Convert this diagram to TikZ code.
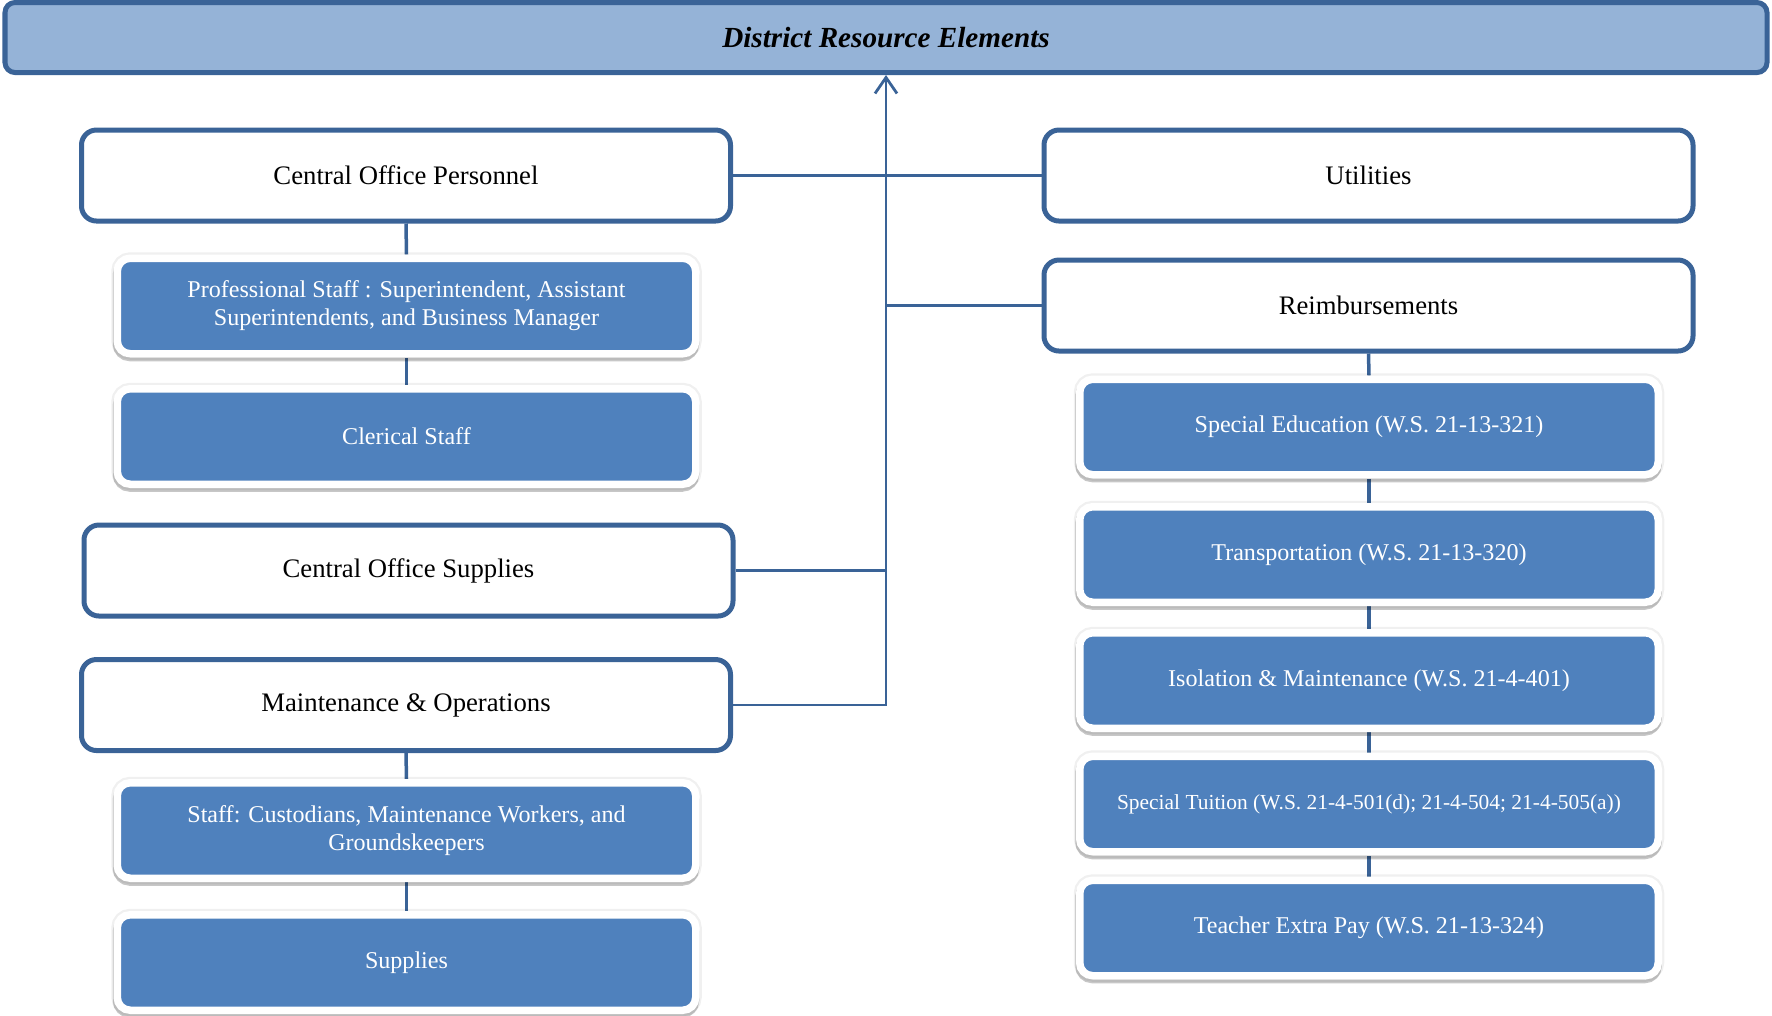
\documentclass[tikz,border=0pt]{standalone}
\usepackage{fontspec}
\setmainfont{Liberation Serif}
\usetikzlibrary{arrows.meta, shadows, backgrounds}
\definecolor{mainBlue}{HTML}{4F81BD}
\definecolor{lightBlue}{HTML}{95B3D7}
\definecolor{lineBlue}{HTML}{3A6397}

\begin{document}
\begin{tikzpicture}[
    headBox/.style={draw=lineBlue, fill=lightBlue, line width=0.05cm, rounded corners=0.1cm,
        minimum width=17.62cm, minimum height=0.70cm, inner sep=0pt,
        font=\fontsize{8.3}{10}\selectfont\bfseries\itshape},
    whiteBox/.style={draw=lineBlue, fill=white, line width=0.05cm, rounded corners=0.15cm,
        minimum width=6.49cm, minimum height=0.91cm, inner sep=0pt,
        font=\fontsize{7.6}{9}\selectfont},
    blueBox/.style={draw=white, fill=mainBlue, line width=0.075cm, rounded corners=0.13cm,
        minimum width=5.785cm, minimum height=0.955cm, inner sep=0pt, text=white, align=center,
        font=\fontsize{6.85}{8}\selectfont,
        general shadow={fill=black, draw=black, line width=0.12cm, opacity=0.06},
        drop shadow={shadow xshift=-0.005cm, shadow yshift=-0.035cm, fill=black, draw=black,
            line width=0.08cm, opacity=0.22}},
    link/.style={draw=lineBlue, line width=0.028cm},
    stem/.style={draw=lineBlue, line width=0.035cm}
]
    \useasboundingbox (0,0) rectangle (17.72,-10.15);

    \node[headBox] (title) at (8.86,-0.375) {District Resource Elements};

    % left column
    \node[whiteBox] (cop) at (4.06,-1.755) {Central Office Personnel};
    \node[blueBox] (prof) at (4.065,-3.06) {Professional Staff : Superintendent, Assistant\\Superintendents, and Business Manager};
    \node[blueBox] (cler) at (4.065,-4.365) {Clerical Staff};
    \node[whiteBox] (cos) at (4.085,-5.705) {Central Office Supplies};
    \node[whiteBox] (mo) at (4.06,-7.05) {Maintenance \& Operations};
    \node[blueBox] (staff) at (4.065,-8.305) {Staff: Custodians, Maintenance Workers, and\\Groundskeepers};
    \node[blueBox] (supp) at (4.065,-9.625) {Supplies};

    % right column
    \node[whiteBox] (util) at (13.685,-1.755) {Utilities};
    \node[whiteBox] (reimb) at (13.685,-3.055) {Reimbursements};
    \node[blueBox] (sped) at (13.69,-4.27) {Special Education (W.S. 21-13-321)};
    \node[blueBox] (trans) at (13.69,-5.545) {Transportation (W.S. 21-13-320)};
    \node[blueBox] (iso) at (13.69,-6.805) {Isolation \& Maintenance (W.S. 21-4-401)};
    \node[blueBox, font=\fontsize{6.1}{7.5}\selectfont] (tuit) at (13.69,-8.04) {Special Tuition (W.S. 21-4-501(d); 21-4-504; 21-4-505(a))};
    \node[blueBox] (tep) at (13.69,-9.28) {Teacher Extra Pay (W.S. 21-13-324)};

    \begin{scope}[on background layer]
        % trunk to the title
        \draw[link, -{Straight Barb[length=0.16cm, width=0.22cm]}] (mo.east) -| (title.south);
        \draw[link] (cop.east) -- (util.west);
        \draw[link] (cos.east) -- (cos.east -| title.south);
        \draw[link] (reimb.west) -- (reimb.west -| title.south);

        % stems
        \draw[stem] (cop.south) -- (prof.north);
        \draw[stem] (prof.south) -- (cler.north);
        \draw[stem] (mo.south) -- (staff.north);
        \draw[stem] (staff.south) -- (supp.north);
        \draw[stem] (reimb.south) -- (sped.north);
        \draw[stem] (sped.south) -- (trans.north);
        \draw[stem] (trans.south) -- (iso.north);
        \draw[stem] (iso.south) -- (tuit.north);
        \draw[stem] (tuit.south) -- (tep.north);
    \end{scope}
\end{tikzpicture}
\end{document}
